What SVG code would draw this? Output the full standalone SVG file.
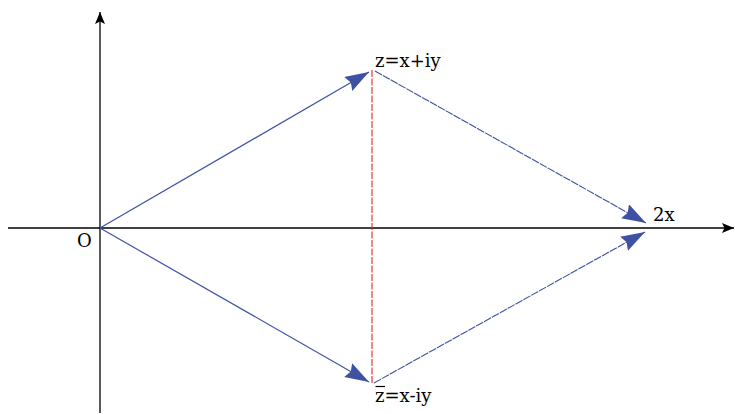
<svg xmlns="http://www.w3.org/2000/svg" width="735" height="414" viewBox="0 0 735 414">
<defs>
<marker id="blueArrow" markerUnits="userSpaceOnUse" markerWidth="28" markerHeight="18" refX="24" refY="8" orient="auto">
<path d="M0,0 L24,8 L0,16 L3,8 z" fill="#3f51a3"/>
</marker>
<marker id="axisArrow" markerUnits="userSpaceOnUse" markerWidth="14" markerHeight="12" refX="12" refY="5" orient="auto">
<path d="M0,0 L12,5 L0,10 L2.5,5 z" fill="#000"/>
</marker>
</defs>
<style>
.axis{stroke:#000;stroke-width:1.3;fill:none}
.vec{stroke:#3f51a3;stroke-width:1.2;fill:none}
.dash{stroke:#3f51a3;stroke-width:1.1;fill:none;stroke-dasharray:8 1}
.red{stroke:#e8262a;stroke-width:1.1;stroke-dasharray:7 1.5;fill:none}
text{font-family:"DejaVu Serif","Liberation Serif",serif;font-size:18px;fill:#000}
</style>
<g id="axes">
<line class="axis" x1="8" y1="228" x2="734" y2="228" marker-end="url(#axisArrow)"/>
<line class="axis" x1="100" y1="413" x2="100" y2="12" marker-end="url(#axisArrow)"/>
</g>
<g id="connectors">
<line class="vec" x1="100" y1="228" x2="369" y2="72" marker-end="url(#blueArrow)"/>
<line class="vec" x1="100" y1="228" x2="369" y2="382" marker-end="url(#blueArrow)"/>
<line class="dash" x1="375" y1="71" x2="646" y2="223" marker-end="url(#blueArrow)"/>
<line class="dash" x1="374" y1="383" x2="645" y2="232" marker-end="url(#blueArrow)"/>
<line class="red" x1="372" y1="70" x2="372" y2="383"/>
</g>
<g id="label-O"><text x="77" y="247">O</text></g>
<g id="label-z"><text x="375" y="67">z=x+iy</text></g>
<g id="label-zbar">
<text x="375" y="402">z=x-iy</text>
<line x1="375.5" y1="386.5" x2="385" y2="386.5" stroke="#000" stroke-width="1.2"/>
</g>
<g id="label-2x"><text x="653" y="221">2x</text></g>
</svg>
